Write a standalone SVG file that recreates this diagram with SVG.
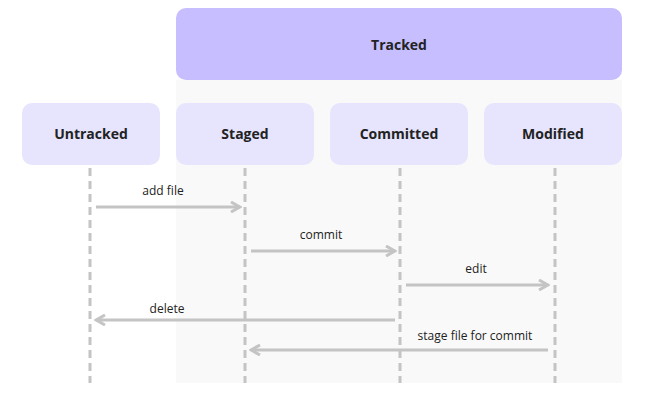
<svg xmlns="http://www.w3.org/2000/svg" width="651" height="401" viewBox="0 0 651 401">
<style>
.box{fill:#e6e5fd}
.t{font-family:"Open Sans","DejaVu Sans",sans-serif;font-size:14px;font-weight:bold;fill:#222;text-anchor:middle}
.l{font-family:"Open Sans","DejaVu Sans",sans-serif;font-size:12px;fill:#222;text-anchor:middle}
.life{stroke:#c4c4c4;stroke-width:3;stroke-dasharray:8,5}
.a{stroke:#c4c4c4;stroke-width:3;fill:none;marker-end:url(#ah)}
</style>
<defs><marker id="ah" markerWidth="12" markerHeight="12" refX="10" refY="6" orient="auto" markerUnits="userSpaceOnUse"><path d="M1,1 L10,6 L1,11" fill="none" stroke="#c4c4c4" stroke-width="3"/></marker></defs>
<rect width="651" height="401" fill="#fff"/>
<rect x="176" y="80" width="446" height="303" fill="#f9f9f9"/>
<g id="tracked"><rect x="176" y="8" width="446" height="72" rx="10" fill="#c6befe"/><text class="t" x="399" y="50">Tracked</text></g>
<g id="untracked"><rect class="box" x="22" y="103" width="138" height="62" rx="10"/><text class="t" x="91" y="139">Untracked</text></g>
<g id="staged"><rect class="box" x="176" y="103" width="138" height="62" rx="10"/><text class="t" x="245" y="139">Staged</text></g>
<g id="committed"><rect class="box" x="330" y="103" width="138" height="62" rx="10"/><text class="t" x="399" y="139">Committed</text></g>
<g id="modified"><rect class="box" x="484" y="103" width="138" height="62" rx="10"/><text class="t" x="553" y="139">Modified</text></g>
<g id="connectors">
<line class="life" x1="90" y1="168" x2="90" y2="383"/>
<line class="life" x1="245" y1="168" x2="245" y2="383"/>
<line class="life" x1="400" y1="168" x2="400" y2="383"/>
<line class="life" x1="555" y1="168" x2="555" y2="383"/>
<line class="a" x1="96" y1="207" x2="240" y2="207"/><text class="l" x="163" y="195">add file</text>
<line class="a" x1="251" y1="251" x2="395" y2="251"/><text class="l" x="321" y="239">commit</text>
<line class="a" x1="406" y1="285" x2="548" y2="285"/><text class="l" x="476" y="273">edit</text>
<line class="a" x1="395" y1="320" x2="96" y2="320"/><text class="l" x="167" y="313">delete</text>
<line class="a" x1="548" y1="350" x2="251" y2="350"/><text class="l" x="475" y="340">stage file for commit</text>
</g>
</svg>
